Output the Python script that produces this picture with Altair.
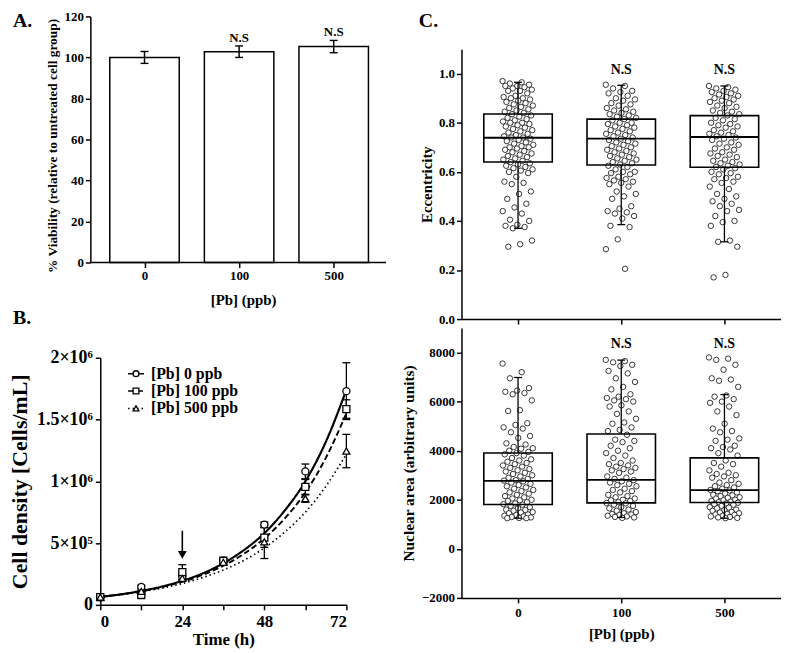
import json
import altair as alt
import pandas as pd

FONT = "Liberation Serif"

# ---------------- Panel A : viability ----------------
a_conc = ["0", "100", "500"]
a_mean = [100.0, 102.8, 105.3]
a_sd = [2.9, 2.8, 3.0]
a_ns = ["", "N.S", "N.S"]

# ---------------- Panel B : growth curves ----------------
b_series = ["[Pb] 0 ppb", "[Pb] 100 ppb", "[Pb] 500 ppb"]
b_shapes = ["circle", "square", "triangle-up"]
b_dashes = [[1, 0], [6, 3], [1.5, 3]]
b_time = [0, 12, 24, 36, 48, 60, 72]
b_mean_0 = [62000, 145000, 225000, 357000, 650000, 1080000, 1730000]
b_sd_0 = [5000, 15000, 20000, 15000, 20000, 60000, 230000]
b_mean_100 = [62000, 80000, 265000, 357000, 545000, 955000, 1585000]
b_sd_100 = [5000, 10000, 60000, 15000, 80000, 60000, 75000]
b_mean_500 = [62000, 110000, 215000, 345000, 510000, 860000, 1245000]
b_sd_500 = [5000, 10000, 15000, 15000, 135000, 30000, 135000]
fit_time = [0, 6, 12, 18, 24, 30, 36, 42, 48, 54, 60, 66, 72]
fit_0 = [65000, 85000, 113000, 148000, 195000, 255000, 337000, 443000, 580000, 765000, 1000000, 1320000, 1740000]
fit_100 = [65000, 85000, 110000, 144000, 187000, 243000, 317000, 413000, 538000, 700000, 910000, 1190000, 1550000]
fit_500 = [65000, 83000, 106000, 135000, 173000, 221000, 282000, 360000, 460000, 590000, 750000, 960000, 1220000]
arrow_time = [24]
arrow_from = [600000]
arrow_head = [405000]
b_ytick_vals = [0, 500000, 1000000, 1500000, 2000000]
b_ytick_text = ["0", "5×10⁵", "1×10⁶", "1.5×10⁶", "2×10⁶"]

# ---------------- Panel C : eccentricity / nuclear area ----------------
c_conc = ["0", "100", "500"]
c_ns = ["", "N.S", "N.S"]
ecc_ns_y = [1.017, 1.017, 1.017]
area_ns_y = [8350, 8350, 8350]

ecc_q1 = [0.640, 0.628, 0.619]
ecc_med = [0.739, 0.735, 0.742]
ecc_q3 = [0.836, 0.815, 0.829]
ecc_lo = [0.370, 0.385, 0.315]
ecc_hi = [0.965, 0.953, 0.950]

area_q1 = [1806, 1873, 1886]
area_med = [2769, 2809, 2395]
area_q3 = [3906, 4682, 3706]
area_lo = [1250, 1280, 1250]
area_hi = [6983, 7692, 6288]

ecc_0 = [0.97, 0.965, 0.96, 0.955, 0.95, 0.95, 0.945, 0.94, 0.935, 0.93, 0.93, 0.92, 0.91, 0.905, 0.90, 0.90,
         0.895, 0.89, 0.885, 0.88, 0.875, 0.87, 0.865, 0.86, 0.855, 0.85, 0.845, 0.84, 0.835, 0.83, 0.825, 0.82,
         0.815, 0.81, 0.805, 0.80, 0.80,
         0.795, 0.79, 0.785, 0.78, 0.775, 0.77, 0.765, 0.76, 0.755, 0.75, 0.745, 0.74, 0.74, 0.735, 0.73, 0.725,
         0.72, 0.715, 0.71, 0.705, 0.70, 0.70,
         0.695, 0.69, 0.685, 0.68, 0.675, 0.67, 0.665, 0.66, 0.655, 0.65, 0.645, 0.64, 0.635, 0.63, 0.625, 0.62,
         0.615, 0.61, 0.605, 0.60,
         0.595, 0.58, 0.56, 0.555, 0.55, 0.52, 0.51,
         0.49, 0.47, 0.455, 0.44, 0.43, 0.405, 0.40, 0.385, 0.38, 0.375, 0.37, 0.32, 0.305, 0.295]
ecc_100 = [0.955, 0.95, 0.94, 0.93, 0.925, 0.92, 0.91, 0.90,
           0.895, 0.89, 0.88, 0.875, 0.87, 0.86, 0.855, 0.85, 0.845, 0.84, 0.835, 0.83, 0.825, 0.82, 0.815,
           0.81, 0.80, 0.80,
           0.795, 0.79, 0.785, 0.78, 0.775, 0.77, 0.765, 0.76, 0.755, 0.75, 0.745, 0.74, 0.735, 0.73, 0.725,
           0.72, 0.715, 0.71, 0.705, 0.70,
           0.695, 0.69, 0.685, 0.68, 0.675, 0.67, 0.665, 0.66, 0.655, 0.65, 0.645, 0.64, 0.635, 0.63, 0.625,
           0.62, 0.61, 0.60, 0.60,
           0.595, 0.59, 0.58, 0.575, 0.57, 0.565, 0.56, 0.555, 0.55, 0.54, 0.52, 0.51, 0.50,
           0.49, 0.46, 0.45, 0.44, 0.435, 0.43, 0.42, 0.41, 0.38, 0.375, 0.325, 0.285, 0.205]
ecc_500 = [0.95, 0.945, 0.94, 0.935, 0.93, 0.925, 0.92, 0.915, 0.91, 0.905, 0.90,
           0.895, 0.89, 0.885, 0.88, 0.87, 0.865, 0.86, 0.85, 0.845, 0.84, 0.835, 0.83, 0.82, 0.815, 0.81, 0.80,
           0.795, 0.79, 0.785, 0.78, 0.77, 0.765, 0.76, 0.755, 0.75, 0.745, 0.74, 0.735, 0.73, 0.72, 0.715,
           0.71, 0.70,
           0.695, 0.69, 0.68, 0.675, 0.67, 0.665, 0.66, 0.65, 0.645, 0.64, 0.635, 0.63, 0.625, 0.62, 0.615,
           0.61, 0.60,
           0.595, 0.59, 0.58, 0.575, 0.57, 0.56, 0.555, 0.54, 0.53, 0.51, 0.50,
           0.49, 0.48, 0.47, 0.46, 0.445, 0.44, 0.42, 0.40, 0.395, 0.38, 0.32, 0.315, 0.295, 0.18, 0.17]

area_0 = [7550, 7200, 6950, 6550, 6450, 6400, 6350, 6300, 6050, 5650, 5620, 5120, 5050, 4950, 4900, 4750,
          4600, 4520, 4300, 4250, 4150, 4100, 4080, 4000,
          3950, 3900, 3850, 3800, 3700, 3650, 3600, 3550, 3500, 3450, 3400, 3350, 3300, 3250, 3200, 3150,
          3100, 3050, 3000,
          2950, 2900, 2850, 2800, 2780, 2750, 2700, 2650, 2600, 2550, 2500, 2450, 2400, 2350, 2300, 2250,
          2200, 2150, 2100, 2050, 2000,
          1980, 1950, 1900, 1850, 1820, 1800, 1750, 1700, 1650, 1600, 1580, 1550, 1500, 1480, 1450, 1400,
          1380, 1350, 1320, 1300, 1280, 1260, 1250, 1250]
area_100 = [7700, 7650, 7600, 7500, 7450, 7250, 7150, 6950, 6800, 6600, 6500, 6300, 6200, 6150, 6100, 6050,
            6000, 5850, 5800, 5600, 5500, 5300, 5150, 5100, 4950, 4850, 4800, 4650, 4450, 4400, 4350, 4200,
            4100, 4000,
            3900, 3800, 3700, 3600, 3500, 3450, 3400, 3350, 3300, 3250, 3200, 3150, 3100,
            2950, 2900, 2850, 2800, 2750, 2700, 2650, 2600, 2550, 2450, 2400, 2350, 2300, 2200, 2150, 2100,
            2050, 2000,
            1980, 1950, 1900, 1870, 1850, 1800, 1750, 1700, 1650, 1600, 1550, 1500, 1450, 1420, 1400, 1380,
            1350, 1320, 1300, 1280, 1260]
area_500 = [7800, 7750, 7700, 7500, 7300, 6950, 6900, 6850, 6600, 6250, 6200, 6100, 6000, 5950, 5800, 5600,
            5450, 5100, 4900, 4800, 4750, 4500, 4450, 4400, 4200, 4150, 4100, 4050,
            3900, 3800, 3600, 3500, 3450, 3350, 3200, 3100, 3050, 3000,
            2950, 2900, 2800, 2700, 2650, 2600, 2550, 2500, 2450, 2400, 2380, 2350, 2300, 2250, 2200, 2180,
            2150, 2100, 2080, 2050, 2000,
            1980, 1950, 1920, 1900, 1880, 1850, 1820, 1800, 1750, 1700, 1680, 1650, 1600, 1580, 1550, 1500,
            1480, 1450, 1420, 1400, 1380, 1350, 1320, 1300, 1280, 1260, 1250]

# ---------------- helpers ----------------
BOLD = "bold"
one = pd.DataFrame({"k": [0]})


def cat_expr(labels):
    return json.dumps(labels) + "[datum.value]"


def label_text(txt, x, y, size=20):
    return alt.Chart(one).mark_text(text=txt, font=FONT, fontWeight=BOLD, fontSize=size,
                                    align="left", baseline="middle", color="black").encode(
        x=alt.value(x), y=alt.value(y))


def cap(base, xf, yf, size=8, thick=1.4):
    return base.mark_tick(orient="horizontal", size=size, thickness=thick, color="black", opacity=1).encode(
        x=xf, y=yf)


# ================= Panel A =================
WA, HA = 288, 248
dfA = pd.DataFrame({"idx": [0, 1, 2], "mean": a_mean, "sd": a_sd, "ns": a_ns})
dfA["lo"] = dfA["mean"] - dfA["sd"]
dfA["hi"] = dfA["mean"] + dfA["sd"]
xA = alt.Scale(domain=[-0.415, 2.501], nice=False, zero=False)
yA = alt.Scale(domain=[0, 120], nice=False)
xaxA = alt.Axis(values=[0, 1, 2], labelExpr=cat_expr(a_conc), title="[Pb] (ppb)", domain=False,
                labelFontSize=13, titleFontSize=15, labelPadding=2, titlePadding=10)
yaxA = alt.Axis(values=list(range(0, 121, 10)), labelExpr="datum.value % 20 == 0 ? datum.label : ''",
                title="% Viability (relative to untreated cell group)", offset=10, titleY=HA / 2 + 6,
                labelFontSize=13, titleFontSize=13.5, titlePadding=5)
baseA = alt.Chart(dfA)
barsA = baseA.mark_bar(width=70, fill="white", stroke="black", strokeWidth=1.5).encode(
    x=alt.X("idx:Q", scale=xA, axis=xaxA), y=alt.Y("mean:Q", scale=yA, axis=yaxA))
errA = baseA.mark_rule(color="black", strokeWidth=1.5).encode(x="idx:Q", y="lo:Q", y2="hi:Q")
nsA = baseA.mark_text(font=FONT, fontWeight=BOLD, fontSize=13, dy=-1, baseline="bottom", color="black").encode(
    x="idx:Q", y="hi:Q", text="ns:N")
baseLineA = alt.Chart(one).mark_rule(color="black", strokeWidth=1.5).encode(
    x=alt.value(-10), x2=alt.value(WA), y=alt.value(HA))
chartA = alt.layer(barsA, errA, cap(baseA, "idx:Q", "lo:Q"), cap(baseA, "idx:Q", "hi:Q"), nsA, baseLineA,
                   label_text("A.", -88, 5), label_text("B.", -88, HA + 56)).properties(width=WA, height=HA)

# ================= Panel B =================
WB, HB = 248, 249
rows = []
for s, m, sd in zip(b_series, [b_mean_0, b_mean_100, b_mean_500], [b_sd_0, b_sd_100, b_sd_500]):
    for t, v, e in zip(b_time, m, sd):
        rows.append({"series": s, "t": t, "v": v, "lo": v - e, "hi": v + e})
dfB = pd.DataFrame(rows)
frows = []
for s, f in zip(b_series, [fit_0, fit_100, fit_500]):
    for t, v in zip(fit_time, f):
        frows.append({"series": s, "t": t, "v": v})
dfFit = pd.DataFrame(frows)
dfArrow = pd.DataFrame({"t": arrow_time, "a": arrow_from, "b": arrow_head})

xB = alt.Scale(domain=[0, 72], nice=False)
yB = alt.Scale(domain=[0, 2000000], nice=False)
ylab = " : ".join(f"datum.value == {v} ? '{t}'" for v, t in zip(b_ytick_vals, b_ytick_text)) + " : ''"
xaxB = alt.Axis(values=list(range(0, 73, 12)), labelExpr="datum.value % 24 == 0 ? datum.label : ''",
                title="Time (h)", labelFontSize=17, titleFontSize=17, labelPadding=4, titlePadding=2)
yaxB = alt.Axis(values=list(range(0, 2000001, 250000)), labelExpr=ylab, title="Cell density [Cells/mL]",
                labelFontSize=18, titleFontSize=22, titlePadding=5, labelPadding=3)
shape_scale = alt.Scale(domain=b_series, range=b_shapes)

linesB = alt.Chart(dfFit).mark_line(color="black", interpolate="monotone").encode(
    x=alt.X("t:Q", scale=xB, axis=xaxB), y=alt.Y("v:Q", scale=yB, axis=yaxB),
    strokeDash=alt.StrokeDash("series:N", scale=alt.Scale(domain=b_series, range=b_dashes), legend=None),
    strokeWidth=alt.StrokeWidth("series:N", scale=alt.Scale(domain=b_series, range=[2.2, 1.7, 1.7]),
                                legend=None))
baseB = alt.Chart(dfB)
errB = baseB.mark_rule(color="black", strokeWidth=1.3).encode(x="t:Q", y="lo:Q", y2="hi:Q")
ptsB = baseB.mark_point(filled=True, fill="white", stroke="black", strokeWidth=1.3, size=50, opacity=1).encode(
    x="t:Q", y="v:Q", shape=alt.Shape("series:N", scale=shape_scale, legend=None))
arrowLine = alt.Chart(dfArrow).mark_rule(color="black", strokeWidth=1.6).encode(x="t:Q", y="a:Q", y2="b:Q")
arrowHead = alt.Chart(dfArrow).mark_point(shape="triangle-down", filled=True, color="black", size=80,
                                          opacity=1).encode(x="t:Q", y="b:Q")

# hand-drawn legend (line sample + symbol + label), placed in pixels inside panel B
legend_layers = []
for i, (s, shp, dash) in enumerate(zip(b_series, b_shapes, b_dashes)):
    ly = 16 + i * 17.5
    legend_layers.append(alt.Chart(one).mark_rule(color="black", strokeWidth=1.5, strokeDash=dash).encode(
        x=alt.value(28), x2=alt.value(44), y=alt.value(ly)))
    legend_layers.append(alt.Chart(one).mark_point(shape=shp, filled=True, fill="white", stroke="black",
                                                   strokeWidth=1.3, size=34, opacity=1).encode(
        x=alt.value(36), y=alt.value(ly)))
    legend_layers.append(alt.Chart(one).mark_text(text=s, font=FONT, fontWeight=BOLD, fontSize=16,
                                                  align="left", baseline="middle", color="black").encode(
        x=alt.value(51), y=alt.value(ly)))

chartB = alt.layer(linesB, errB, cap(baseB, "t:Q", "lo:Q", thick=1.3), cap(baseB, "t:Q", "hi:Q", thick=1.3),
                   ptsB, arrowLine, arrowHead, *legend_layers).properties(width=WB, height=HB)

# ================= Panel C =================
WC, HC = 322, 272
BOXW = 69
xC = alt.Scale(domain=[-0.5, 2.5], nice=False, zero=False)


def pts_df(lists):
    return pd.DataFrame([{"g": g, "i": i, "v": v} for g, lst in enumerate(lists) for i, v in enumerate(lst)])


def box_panel(lists, q1, med, q3, lo, hi, ns_y, ydom, yvals, ylabexpr, ytitle, xaxis, ytpad, tsize):
    dfp = pts_df(lists)
    dfb = pd.DataFrame({"idx": [0, 1, 2], "q1": q1, "med": med, "q3": q3, "lo": lo, "hi": hi,
                        "ns": c_ns, "nsy": ns_y})
    ys = alt.Scale(domain=ydom, nice=False, zero=False)
    yax = alt.Axis(values=yvals, labelExpr=ylabexpr, title=ytitle, labelFontSize=13, titleFontSize=tsize,
                   titlePadding=ytpad)
    pts = alt.Chart(dfp).transform_calculate(
        jx="datum.g + ((datum.i * 0.618034) % 1 - 0.5) * 0.30").mark_point(
        shape="circle", filled=True, fill="white", stroke="#222222", strokeWidth=0.9, size=30, opacity=1).encode(
        x=alt.X("jx:Q", scale=xC, axis=xaxis), y=alt.Y("v:Q", scale=ys, axis=yax))
    bb = alt.Chart(dfb)
    box = bb.mark_bar(width=BOXW, fill="white", fillOpacity=0, stroke="black", strokeWidth=1.6).encode(
        x="idx:Q", y="q1:Q", y2="q3:Q")
    medt = cap(bb, "idx:Q", "med:Q", size=BOXW, thick=1.8)
    wl = bb.mark_rule(color="black", strokeWidth=1.3).encode(x="idx:Q", y="lo:Q", y2="q1:Q")
    wh = bb.mark_rule(color="black", strokeWidth=1.3).encode(x="idx:Q", y="q3:Q", y2="hi:Q")
    ns = bb.mark_text(font=FONT, fontWeight=BOLD, fontSize=14, baseline="middle", color="black").encode(
        x="idx:Q", y="nsy:Q", text="ns:N")
    return alt.layer(pts, wl, wh, cap(bb, "idx:Q", "lo:Q", thick=1.3), cap(bb, "idx:Q", "hi:Q", thick=1.3),
                     box, medt, ns).properties(width=WC, height=HC)


xaxCt = alt.Axis(values=[0, 1, 2], labels=False, title=None)
xaxCb = alt.Axis(values=[0, 1, 2], labelExpr=cat_expr(c_conc), title="[Pb] (ppb)", labelFontSize=13,
                 titleFontSize=15, labelPadding=4, titlePadding=7)
chartCt = box_panel([ecc_0, ecc_100, ecc_500], ecc_q1, ecc_med, ecc_q3, ecc_lo, ecc_hi, ecc_ns_y,
                    [0, 1.1], [round(i * 0.1, 1) for i in range(11)],
                    "round(datum.value * 10) % 2 == 0 ? format(datum.value, '.1f') : ''",
                    "Eccentricity", xaxCt, 4, 15)
chartCb = box_panel([area_0, area_100, area_500], area_q1, area_med, area_q3, area_lo, area_hi, area_ns_y,
                    [-2000, 9000], list(range(-2000, 8001, 1000)),
                    "datum.value % 2000 == 0 ? format(datum.value, 'd') : ''",
                    "Nuclear area (arbitrary units)", xaxCb, 5, 15.5)
chartClab = label_text("C.", -43, 5).properties(width=WC, height=31)

indep = dict(shape="independent", strokeDash="independent", strokeWidth="independent")
left = alt.vconcat(chartA, chartB, spacing=21).resolve_scale(**indep)
right = alt.vconcat(chartClab, chartCt, chartCb, spacing=2)
chart = alt.hconcat(left, right, spacing=14).resolve_scale(**indep).properties(
    padding={"left": 0, "top": 0, "right": 0, "bottom": 0}).configure_view(stroke=None).configure_axis(
    grid=False, domainColor="black", domainWidth=1.5, tickColor="black", tickWidth=1.5, tickSize=5,
    labelFont=FONT, labelFontWeight=BOLD, labelColor="black", titleFont=FONT, titleFontWeight=BOLD,
    titleColor="black", labelPadding=2)

chart.save("out.html", embed_options={"renderer": "svg", "actions": False})
